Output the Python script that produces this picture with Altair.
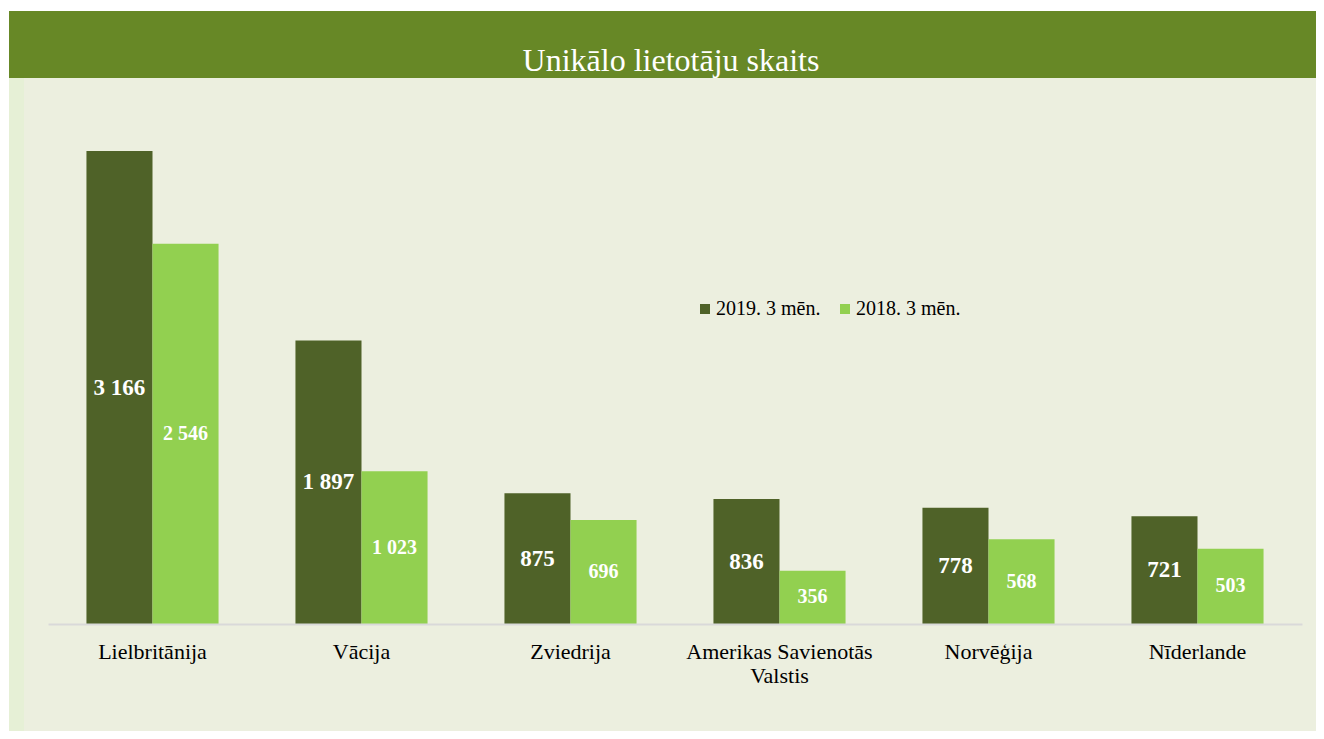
import altair as alt
import pandas as pd

countries = ["Lielbritānija", "Vācija", "Zviedrija", "Amerikas Savienotās Valstis", "Norvēģija", "Nīderlande"]
series = ["2019. 3 mēn.", "2018. 3 mēn."]
v2019 = [3166, 1897, 875, 836, 778, 721]
v2018 = [2546, 1023, 696, 356, 568, 503]
title_text = "Unikālo lietotāju skaits"

rows = []
for c, a, b in zip(countries, v2019, v2018):
    rows.append({"country": c, "series": series[0], "value": a})
    rows.append({"country": c, "series": series[1], "value": b})
df = pd.DataFrame(rows)

def fmt(v):
    return f"{v:,}".replace(",", " ")
df["label"] = df["value"].apply(fmt)
df["half"] = df["value"] / 2

W, H = 1254, 546
PAD = {"left": 40, "top": 70, "right": 14, "bottom": 107}
FONT = "Liberation Serif"
DARK = "#4F6228"
LIGHT = "#92D050"

xs = alt.Scale(domain=countries, paddingInner=0.368, paddingOuter=0.184)
ys = alt.Scale(domain=[0, 3655], nice=False)
color = alt.Color("series:N", scale=alt.Scale(domain=series, range=[DARK, LIGHT]),
                  legend=alt.Legend(title=None, orient="none", legendX=647, legendY=221,
                                    direction="horizontal", symbolType="square", symbolSize=100,
                                    labelFont=FONT, labelFontSize=20, labelColor="#000000",
                                    columnPadding=14, symbolStrokeWidth=0, labelOffset=1,
                                    zindex=2))

one = alt.Data(values=[{"a": 1}])

bg = alt.Chart(one).mark_rect(color="#ECEFDF", clip=False).encode(
    x=alt.value(-39), x2=alt.value(W + PAD["right"]), y=alt.value(0), y2=alt.value(H + PAD["bottom"]))
strip = alt.Chart(one).mark_rect(color="#E6F0D6", clip=False).encode(
    x=alt.value(-39), x2=alt.value(-24), y=alt.value(0), y2=alt.value(H + PAD["bottom"]))
band = alt.Chart(one).mark_rect(color="#678826", clip=False).encode(
    x=alt.value(-39), x2=alt.value(W + PAD["right"]), y=alt.value(-67), y2=alt.value(0))
title = alt.Chart(one).mark_text(text=title_text, font=FONT, fontSize=32, color="white",
                                 baseline="middle", align="center", clip=False).encode(
    x=alt.value(W / 2 - 4), y=alt.value(-17))

xoff = alt.XOffset("series:N", sort=series, scale=alt.Scale(domain=series, paddingInner=0))

base = alt.Chart(df)
bars = base.mark_bar(stroke=None).encode(
    x=alt.X("country:N", scale=xs, sort=countries, title=None,
            axis=alt.Axis(labelFont=FONT, labelFontSize=22, labelColor="#000000", labelAngle=0,
                          labelPadding=17, ticks=False, domainColor="#D9D9D9", domainWidth=2,
                          labelLineHeight=24, labelLimit=400, zindex=2,
                          labelExpr="datum.label == 'Amerikas Savienotās Valstis' ? ['Amerikas Savienotās', 'Valstis'] : datum.label")),
    xOffset=xoff,
    y=alt.Y("value:Q", scale=ys, axis=None),
    color=color,
)
lab19 = base.transform_filter(alt.datum.series == series[0]).mark_text(
    font=FONT, fontSize=23, fontWeight="bold", color="white", baseline="middle").encode(
    x=alt.X("country:N", scale=xs, sort=countries),
    xOffset=xoff,
    y=alt.Y("half:Q", scale=ys), text="label:N")
lab18 = base.transform_filter(alt.datum.series == series[1]).mark_text(
    font=FONT, fontSize=20, fontWeight="bold", color="white", baseline="middle").encode(
    x=alt.X("country:N", scale=xs, sort=countries),
    xOffset=xoff,
    y=alt.Y("half:Q", scale=ys), text="label:N")

chart = alt.layer(bg, strip, band, title, bars, lab19, lab18).properties(
    width=W, height=H, autosize=alt.AutoSizeParams(type="none"), padding=PAD,
    background="white"
).configure_view(stroke=None).resolve_scale(xOffset="shared")

chart.save("out.html", embed_options={"renderer": "svg", "actions": False})
